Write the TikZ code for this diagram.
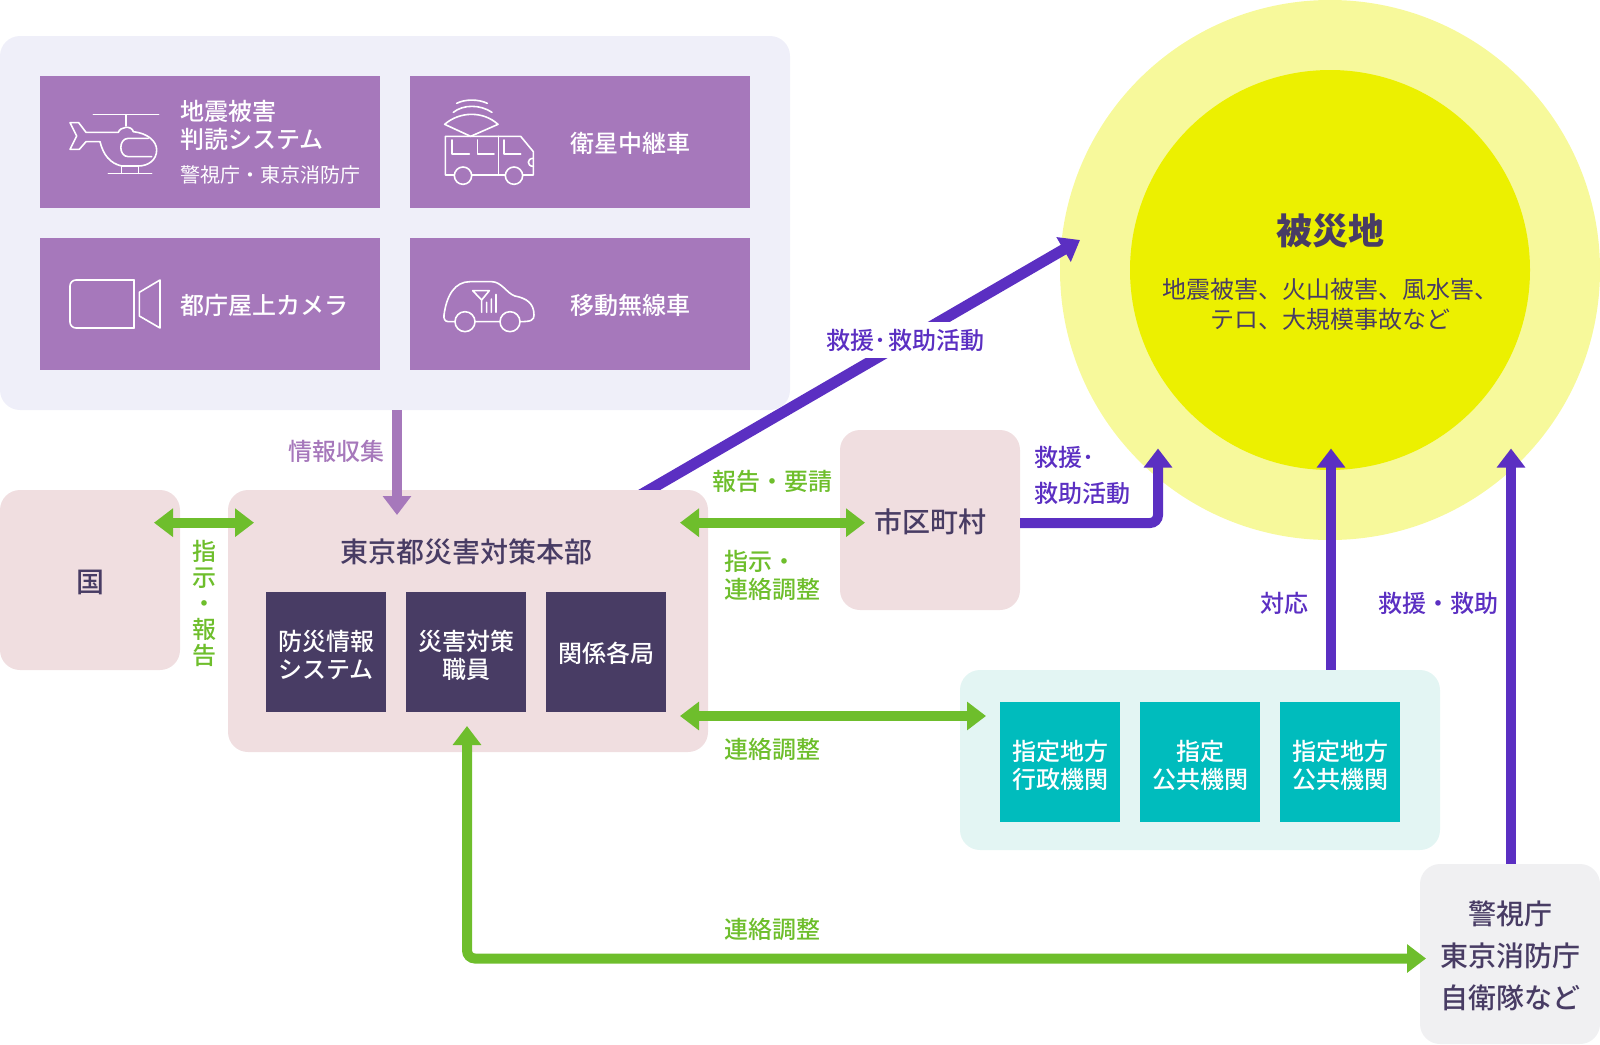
\documentclass[tikz,border=0pt]{standalone}
\usepackage{fontspec}
\setmainfont{Noto Sans CJK JP}
\newfontfamily\medfont{Noto Sans CJK JP Medium}
\usetikzlibrary{arrows.meta}
\usetikzlibrary{backgrounds}

\definecolor{panelblue}{HTML}{EFEFF9}
\definecolor{boxpurple}{HTML}{A678BB}
\definecolor{boxpink}{HTML}{F0DEE0}
\definecolor{boxdark}{HTML}{483C64}
\definecolor{boxteal}{HTML}{00BCBD}
\definecolor{panelteal}{HTML}{E3F5F3}
\definecolor{boxgrey}{HTML}{F0F0F2}
\definecolor{zoneouter}{HTML}{F7F99B}
\definecolor{zoneinner}{HTML}{ECF000}
\definecolor{linegreen}{HTML}{6EBE2C}
\definecolor{lineviolet}{HTML}{5B2FC2}

\tikzset{
    tipflow/.tip={Triangle[length=19pt,width=27.5pt]},
    area/.style={inner sep=0pt, rounded corners=20pt},
    tile/.style={inner sep=0pt, minimum size=120pt},
    wide/.style={inner sep=0pt, fill=boxpurple, minimum width=340pt, minimum height=132pt},
    icon/.style={draw=white, line width=1.6pt, line join=round, line cap=round},
    tiletext/.style={inner sep=0pt, text=white, align=center, font=\medfont\fontsize{24pt}{28pt}\selectfont},
    boxtext/.style={inner sep=0pt, text=boxdark, align=center, font=\medfont\fontsize{28pt}{42pt}\selectfont},
    tag/.style={inner sep=0pt, align=left, font=\medfont\fontsize{24pt}{28pt}\selectfont},
    flowgreen/.style={draw=linegreen, line width=10pt},
    flowviolet/.style={draw=lineviolet, line width=10pt},
    flowpurple/.style={draw=boxpurple, line width=10pt}
}

\begin{document}
\begin{tikzpicture}[x=1pt, y=-1pt]
        \useasboundingbox (0, 0) rectangle (1600, 1044);

        \node (panel) [area, fill=panelblue, minimum width=790pt, minimum height=374pt] at (395, 223) {};
        \node (seismic) [wide] at (210, 142) {};
        \node (satvan) [wide] at (580, 142) {};
        \node (camera) [wide] at (210, 304) {};
        \node (radiocar) [wide] at (580, 304) {};

        \node (seismictext) [tiletext, anchor=west, align=left] at (180, 125) {地震被害\\判読システム};
        \node (seismicsub) [inner sep=0pt, text=white, anchor=west, font=\fontsize{20pt}{24pt}\selectfont] at (180, 175) {警視庁・東京消防庁};
        \node (satvantext) [tiletext, anchor=west] at (570, 143) {衛星中継車};
        \node (cameratext) [tiletext, anchor=west] at (180, 305) {都庁屋上カメラ};
        \node (radiocartext) [tiletext, anchor=west] at (570, 305) {移動無線車};

        \node (kuni) [area, fill=boxpink, minimum width=180pt, minimum height=180pt] at (90, 580) {};
        \node (kunitext) [boxtext] at (90, 582) {国};
        \node (hq) [area, fill=boxpink, minimum width=480pt, minimum height=262pt] at (468, 621) {};
        \node (hqtext) [boxtext] at (466, 552) {東京都災害対策本部};
        \node (infosys) [tile, fill=boxdark] at (326, 652) {};
        \node (staff) [tile, fill=boxdark] at (466, 652) {};
        \node (bureaus) [tile, fill=boxdark] at (606, 652) {};
        \node (infosystext) [tiletext] at (326, 655) {防災情報\\システム};
        \node (stafftext) [tiletext] at (466, 655) {災害対策\\職員};
        \node (bureaustext) [tiletext] at (606, 653) {関係各局};

        \node (town) [area, fill=boxpink, minimum width=180pt, minimum height=180pt] at (930, 520) {};
        \node (towntext) [boxtext] at (930, 522) {市区町村};

        \node (liaison) [area, fill=panelteal, minimum width=480pt, minimum height=180pt] at (1200, 760) {};
        \node (localgov) [tile, fill=boxteal] at (1060, 762) {};
        \node (public) [tile, fill=boxteal] at (1200, 762) {};
        \node (localpub) [tile, fill=boxteal] at (1340, 762) {};
        \node (localgovtext) [tiletext] at (1060, 765) {指定地方\\行政機関};
        \node (publictext) [tiletext] at (1200, 765) {指定\\公共機関};
        \node (localpubtext) [tiletext] at (1340, 765) {指定地方\\公共機関};

        \node (police) [area, fill=boxgrey, minimum width=180pt, minimum height=180pt] at (1510, 954) {};
        \node (policetext) [boxtext] at (1510, 955.5) {警視庁\\東京消防庁\\自衛隊など};

        \coordinate (diagstart) at (625, 504);
        \coordinate (diagtip) at (1080, 240);
        \coordinate (siteleft) at (1158, 448.5);
        \coordinate (sitemid) at (1331, 448.5);
        \coordinate (siteright) at (1511, 448.5);
        \coordinate (collectin) at (397, 515);
        \coordinate (kuniin) at (154, 522.7);
        \coordinate (hqleftin) at (254, 522.7);
        \coordinate (hqrightin) at (680, 522.7);
        \coordinate (townin) at (865, 522.7);
        \coordinate (hqlowin) at (680, 716);
        \coordinate (liaisonin) at (986, 716);
        \coordinate (hqbottomin) at (467, 726);
        \coordinate (policein) at (1426, 958.5);

        \begin{pgfonlayer}{background}
            \node (outerzone) [circle, inner sep=0pt, fill=zoneouter, minimum size=540pt] at (1330, 270) {};
            \node (innerzone) [circle, inner sep=0pt, fill=zoneinner, minimum size=400pt] at (1330, 270) {};
            \draw[flowviolet, line width=11pt, -tipflow] (diagstart) -- (diagtip);
            \node (rescuetag) [tag, text=lineviolet, fill=white, inner xsep=4pt, minimum height=36pt] at (905, 340) {救援\kern1pt･\kern1pt 救助活動};
        \end{pgfonlayer}

        \node (sitetitle) [inner sep=0pt, text=boxdark, font=\bfseries\fontsize{36pt}{40pt}\selectfont] at (1330, 231) {被災地};
        \node (sitedesc) [inner sep=0pt, text=boxdark, align=center, font=\fontsize{24pt}{29.5pt}\selectfont] at (1330, 304.5) {地震被害、火山被害、風水害、\\テロ、大規模事故など};

        \draw[flowpurple, -tipflow] (collectin |- panel.south) -- (collectin);
        \draw[flowgreen, tipflow-tipflow] (kuniin) -- (hqleftin);
        \draw[flowgreen, tipflow-tipflow] (hqrightin) -- (townin);
        \draw[flowgreen, tipflow-tipflow] (hqlowin) -- (liaisonin);
        \draw[flowgreen, tipflow-tipflow, rounded corners=8pt] (hqbottomin) |- (policein);
        \draw[flowviolet, -tipflow, rounded corners=8pt] ([yshift=-3pt]town.east) -| (siteleft);
        \draw[flowviolet, -tipflow] (sitemid |- liaison.north) -- (sitemid);
        \draw[flowviolet, -tipflow] (siteright |- police.north) -- (siteright);

        \node (collecttag) [tag, text=boxpurple] at (336, 451) {情報収集};
        \node (ordertag) [tag, text=linegreen, align=center, font=\medfont\fontsize{24pt}{26pt}\selectfont] at (204, 603) {指\\示\\・\\報\\告};
        \node (reporttag) [tag, text=linegreen] at (772, 481.5) {報告・要請};
        \node (liaisontag) [tag, text=linegreen, anchor=west] at (724, 575.5) {指示・\\連絡調整};
        \node (lowtag) [tag, text=linegreen] at (772, 749) {連絡調整};
        \node (bottomtag) [tag, text=linegreen] at (772, 929) {連絡調整};
        \node (towntag) [tag, text=lineviolet, anchor=west, font=\medfont\fontsize{24pt}{36pt}\selectfont] at (1034, 475) {救援･\\救助活動};
        \node (responsetag) [tag, text=lineviolet] at (1284, 603) {対応};
        \node (savetag) [tag, text=lineviolet] at (1438, 603) {救援・救助};

        \begin{scope}[shift={(50, 80)}, scale=1/3]
            \draw[icon] (130, 104) -- (326, 104) (228, 104) -- (228, 138);
            \draw[icon] (60, 128) -- (86, 128) -- (108, 157) -- (205, 157) .. controls (210, 140) and (245, 135) .. (250, 155) .. controls (295, 160) and (320, 185) .. (320, 210) .. controls (320, 240) and (295, 258) .. (265, 258) -- (215, 258) .. controls (180, 250) and (160, 225) .. (150, 185) -- (108, 185) -- (88, 208) -- (60, 208) -- (80, 168) -- cycle;
            \draw[icon] (295, 175) -- (235, 175) .. controls (205, 175) and (205, 230) .. (235, 230) -- (305, 230);
            \draw[icon] (175, 280) -- (305, 280) (214, 258) -- (214, 280) (265, 258) -- (265, 280);
        \end{scope}

        \begin{scope}[shift={(430, 85)}, scale=1/3]
            \draw[icon] (73, 270) -- (46, 270) -- (46, 154) -- (272, 154) -- (310, 200) -- (310, 270) -- (278, 270) (125, 270) -- (226, 270);
            \draw[icon] (99, 272) circle (26) (252, 272) circle (26);
            \draw[icon] (205, 154) -- (205, 270);
            \draw[icon] (66, 165) -- (66, 207) -- (118, 207) (142, 165) -- (142, 207) -- (192, 207) (222, 165) -- (222, 207) -- (272, 207);
            \draw[icon] (310, 220) .. controls (290, 220) and (290, 244) .. (310, 244);
            \draw[icon] (122, 154) -- (44, 118) .. controls (90, 78) and (160, 78) .. (204, 118) -- cycle;
            \draw[icon] (70, 82) .. controls (100, 58) and (150, 58) .. (186, 82);
            \draw[icon] (80, 55) .. controls (105, 42) and (145, 42) .. (172, 55);
        \end{scope}

        \begin{scope}[shift={(50, 260)}, scale=1/3]
            \draw[icon, rounded corners=6pt] (252, 60) -- (60, 60) -- (60, 204) -- (252, 204);
            \draw[icon] (252, 60) -- (252, 204);
            \draw[icon] (268, 97) -- (330, 60) -- (330, 204) -- (268, 168) -- cycle;
        \end{scope}

        \begin{scope}[shift={(430, 265)}, scale=1/3]
            \draw[icon] (75, 170) -- (55, 170) .. controls (45, 170) and (40, 160) .. (42, 150) .. controls (50, 90) and (75, 50) .. (120, 50) -- (185, 50) .. controls (215, 50) and (230, 85) .. (255, 93) .. controls (290, 100) and (312, 115) .. (312, 150) .. controls (312, 165) and (305, 170) .. (270, 170) (135, 170) -- (210, 170);
            \draw[icon] (105, 170) circle (30) (240, 170) circle (30);
            \draw[icon] (128, 77) -- (178, 77) -- (155, 105) -- cycle (155, 105) -- (155, 142) (170, 112) -- (170, 142) (184, 102) -- (184, 142) (198, 88) -- (198, 142);
        \end{scope}

    \end{tikzpicture}
\end{document}
